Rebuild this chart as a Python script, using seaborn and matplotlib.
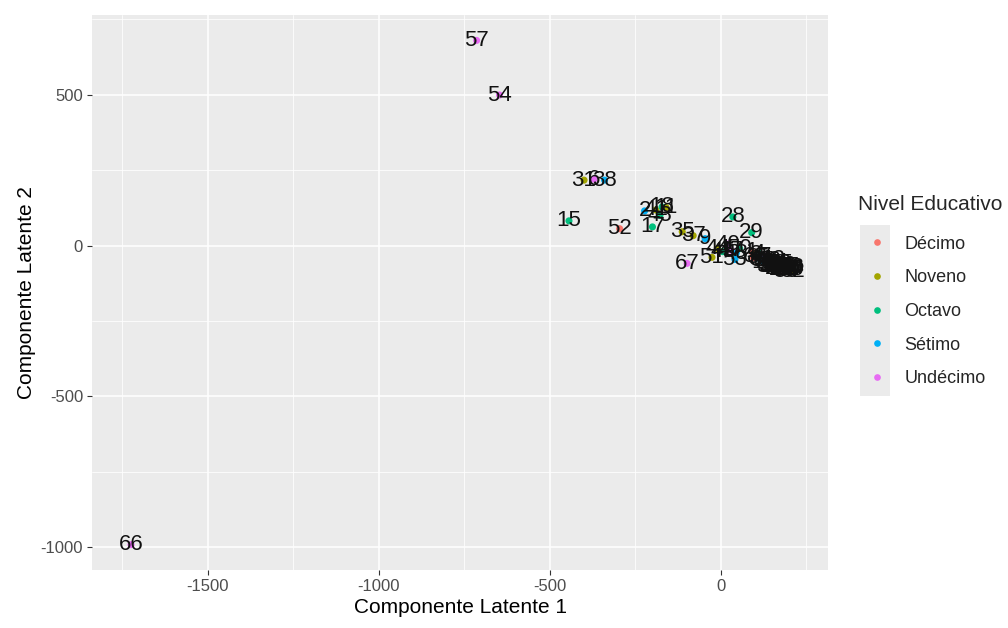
import pandas as pd
import matplotlib.pyplot as plt
import seaborn as sns
from matplotlib.patches import Rectangle

# Componentes latentes por estudiante
labels = [57, 54, 66, 15, 52, 31, 6, 38, 2, 41, 18, 11, 43, 17, 35, 37, 9, 67, 28, 29,
          40, 44, 45, 47, 48, 50, 51, 53,
          1, 3, 4, 5, 7, 8, 10, 12, 13, 14, 16, 19, 20, 21, 22, 23, 24, 25, 26, 27,
          30, 32, 33, 34, 36, 39, 42, 46, 49, 55, 56, 58, 59, 60, 61, 62, 63, 64, 65,
          68, 69, 70]
comp1 = [-714, -647, -1724, -444, -296, -400, -371, -340, -223, -190, -172, -160, -178, -200, -113, -81, -46, -99, 35, 90,
         20, -10, 5, 30, 45, 55, -26, 41,
         90, 100, 110, 120, 130, 95, 140, 150, 125, 160, 170, 145, 180, 155, 165, 190, 200, 175, 185, 195,
         205, 210, 135, 115, 170, 185, 160, 200, 150, 175, 190, 205, 140, 165, 180, 195, 155, 210, 120,
         100, 130, 185]
comp2 = [680, 499, -991, 82, 56, 217, 220, 217, 115, 118, 128, 126, 100, 62, 46, 33, 23, -59, 95, 43,
         5, -10, -20, -15, -25, -10, -39, -46,
         -20, -30, -25, -40, -35, -40, -50, -45, -55, -55, -60, -65, -70, -70, -75, -75, -80, -80, -65, -70,
         -78, -85, -60, -45, -72, -82, -80, -68, -75, -60, -85, -72, -70, -65, -78, -80, -58, -75, -50,
         -35, -48, -73]
nivel = ["Undécimo", "Undécimo", "Undécimo", "Octavo", "Décimo", "Noveno", "Undécimo", "Sétimo",
         "Sétimo", "Noveno", "Octavo", "Noveno", "Octavo", "Octavo", "Noveno", "Noveno", "Sétimo",
         "Undécimo", "Octavo", "Octavo",
         "Undécimo", "Noveno", "Octavo", "Undécimo", "Sétimo", "Octavo", "Noveno", "Sétimo",
         "Décimo", "Noveno", "Octavo", "Sétimo", "Undécimo", "Décimo", "Noveno", "Octavo", "Sétimo",
         "Undécimo", "Décimo", "Noveno", "Octavo", "Sétimo", "Undécimo", "Décimo", "Noveno", "Octavo",
         "Sétimo", "Undécimo", "Décimo", "Noveno", "Octavo", "Sétimo", "Undécimo", "Décimo", "Noveno",
         "Octavo", "Sétimo", "Undécimo", "Décimo", "Noveno", "Octavo", "Sétimo", "Undécimo", "Décimo",
         "Noveno", "Octavo", "Sétimo", "Undécimo", "Décimo", "Noveno"]

niveles = ["Décimo", "Noveno", "Octavo", "Sétimo", "Undécimo"]
colores = ["#F8766D", "#A3A500", "#00BF7D", "#00B0F6", "#E76BF3"]

df = pd.DataFrame({"id": labels, "c1": comp1, "c2": comp2, "nivel": nivel})

sns.set_theme(style="darkgrid", rc={
    "axes.facecolor": "#EBEBEB",
    "grid.color": "white",
    "axes.edgecolor": "#EBEBEB",
})
plt.rcParams["font.family"] = ["Liberation Sans", "DejaVu Sans"]
plt.rcParams["axes.unicode_minus"] = False

fig = plt.figure(figsize=(10.08, 6.28), dpi=100)
ax = fig.add_axes([0.0913, 0.0924, 0.7301, 0.8836])

sns.scatterplot(data=df, x="c1", y="c2", hue="nivel", hue_order=niveles,
                palette=colores, s=26, linewidth=0, ax=ax, legend=False, zorder=3)

for _, r in df.iterrows():
    ax.text(r["c1"], r["c2"], str(r["id"]), ha="center", va="center",
            fontsize=16, color="#111111", zorder=4)

ax.set_xlim(-1838, 313)
ax.set_ylim(-1075, 764)
ax.set_xticks([-1500, -1000, -500, 0])
ax.set_yticks([-1000, -500, 0, 500])
ax.set_xticks([-1750, -1250, -750, -250, 250], minor=True)
ax.set_yticks([-750, -250, 250, 750], minor=True)
ax.grid(which="major", color="white", linewidth=1.1)
ax.grid(which="minor", color="white", linewidth=0.55)
ax.tick_params(axis="both", which="major", length=3.5, width=0.8, color="#333333",
               labelsize=12, labelcolor="#4D4D4D", pad=3, bottom=True, left=True)
ax.tick_params(which="minor", length=0)
for s in ax.spines.values():
    s.set_visible(False)

ax.set_xlabel("Componente Latente 1", fontsize=15, color="black", labelpad=3)
ax.set_ylabel("Componente Latente 2", fontsize=15, color="black", labelpad=3)

# leyenda al estilo ggplot
handles = [plt.Line2D([], [], marker="o", linestyle="", markersize=4.8,
                      markerfacecolor=c, markeredgewidth=0) for c in colores]
leg = fig.legend(handles, niveles, loc="upper left",
                 bbox_to_anchor=(0.849, 0.636), frameon=False, fontsize=13,
                 handletextpad=0.7, labelspacing=0.92,
                 handlelength=1.6, borderaxespad=0)
fig.text(858 / 1008, 1 - 205 / 628, "Nivel Educativo", fontsize=15,
         ha="left", va="center")
fig.patches.append(Rectangle((860 / 1008, 1 - 396 / 628), 30 / 1008, 171 / 628,
                             transform=fig.transFigure, facecolor="#EBEBEB",
                             edgecolor="none", zorder=0))

plt.savefig("out.png", dpi=100)
